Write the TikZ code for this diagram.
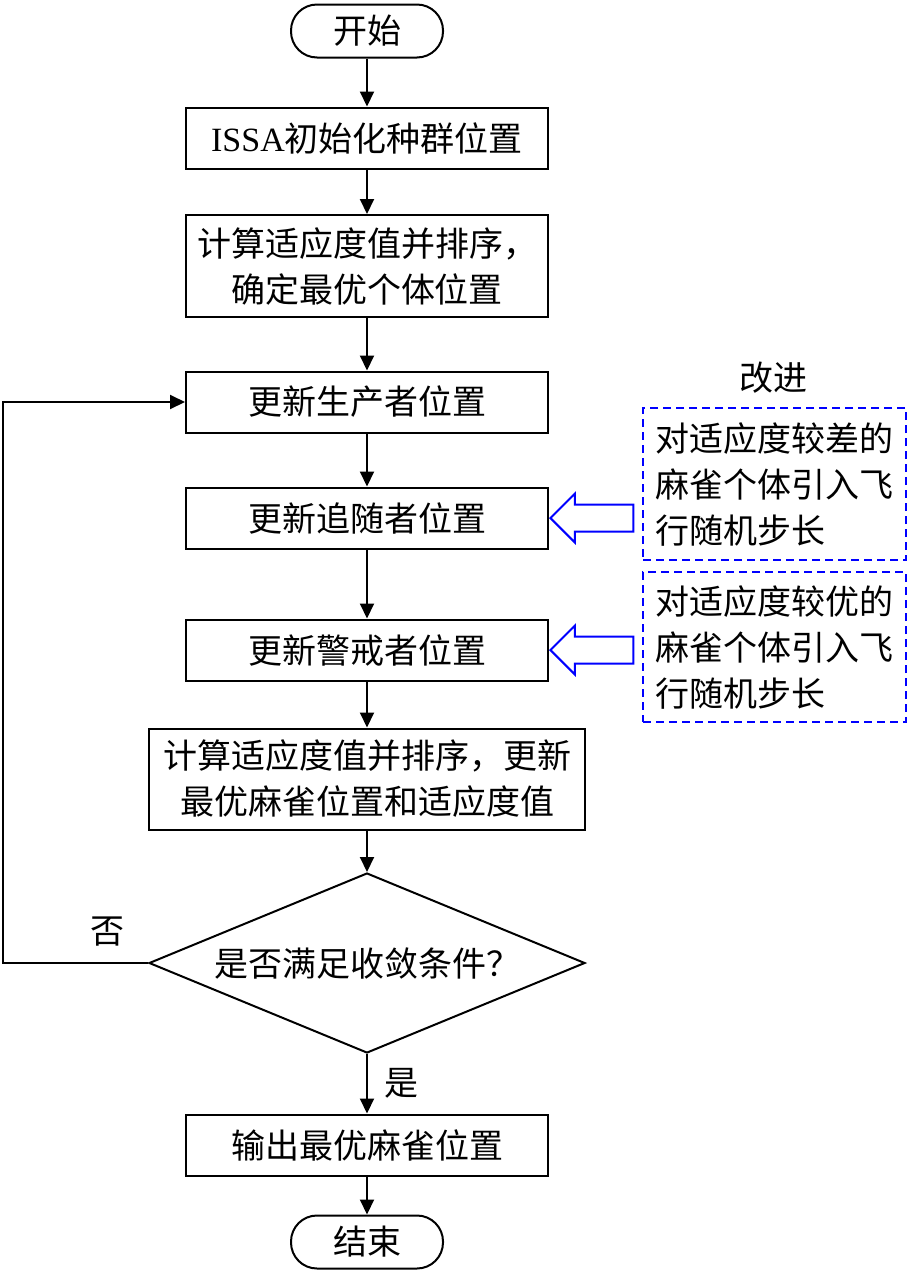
\documentclass[tikz,border=0pt]{standalone}
\usepackage{fontspec}
\setmainfont{Liberation Serif}
\newfontfamily\cjk{Noto Sans CJK SC}
\usetikzlibrary{arrows.meta, positioning, shapes.geometric, shapes.arrows}

\begin{document}
\begin{tikzpicture}[
  x=0.5pt, y=-0.5pt,
  every node/.style={font=\cjk\fontsize{17}{23}\selectfont},
  box/.style={rectangle, draw, line width=1pt, minimum width=181pt,
              minimum height=30.5pt, align=center, inner sep=0pt},
  term/.style={rectangle, draw, line width=1pt, rounded corners=13pt,
               minimum width=76pt, minimum height=26.5pt},
  judge/.style={diamond, draw, line width=1pt, aspect=2.42,
                minimum width=218pt, minimum height=90pt, inner sep=0pt},
  note/.style={rectangle, draw=blue, dash pattern=on 4pt off 2.5pt,
               line width=1pt, minimum width=131.5pt, align=left, inner xsep=6pt},
  hollow/.style={single arrow, draw=blue, line width=1pt, shape border rotate=180,
                 minimum height=41.5pt, text height=12.5pt, text depth=0pt,
                 single arrow head extend=5.5pt, inner sep=0pt},
  arr/.style={-{Triangle[length=7.5pt,width=7pt]}, line width=1pt},
]
\useasboundingbox (0,0) rectangle (911,1275);

% main column
\node[term] (start) at (367,31) {开始};
\node[box] (init) at (367,138) {{\rmfamily ISSA}初始化种群位置};
\node[box, minimum height=51pt] (fit1) at (367,266) {计算适应度值并排序，\\确定最优个体位置};
\node[box] (prod) at (367,402) {更新生产者位置};
\node[box] (scr) at (367,518) {更新追随者位置};
\node[box] (vig) at (367,650) {更新警戒者位置};
\node[box, minimum width=218pt, minimum height=50.5pt] (fit2) at (367,779) {计算适应度值并排序，更新\\最优麻雀位置和适应度值};
\node[judge] (conv) at (367,963) {是否满足收敛条件？};
\node[box] (out) at (367,1145) {输出最优麻雀位置};
\node[term] (end) at (367,1242) {结束};

\draw[arr] (start) -- (init);
\draw[arr] (init) -- (fit1);
\draw[arr] (fit1) -- (prod);
\draw[arr] (prod) -- (scr);
\draw[arr] (scr) -- (vig);
\draw[arr] (vig) -- (fit2);
\draw[arr] (fit2) -- (conv);
\draw[arr] (conv) -- node[right, xshift=5pt] (yes) {是} (out);
\draw[arr] (out) -- (end);

% loop back
\coordinate (back) at (3,963);
\draw[arr] (conv.west) -- (back) |- (prod.west);
\node (no) at (107,932) {否};

% improvements
\node (imp) at (773,378) {改进};
\node[note, minimum height=76pt] (imp1) at (774.5,484) {对适应度较差的\\麻雀个体引入飞\\行随机步长};
\node[note, minimum height=75pt] (imp2) at (774.5,647) {对适应度较优的\\麻雀个体引入飞\\行随机步长};
\node[hollow, anchor=tip] (h1) at (scr.east) {};
\node[hollow, anchor=tip] (h2) at (vig.east) {};

\end{tikzpicture}
\end{document}
